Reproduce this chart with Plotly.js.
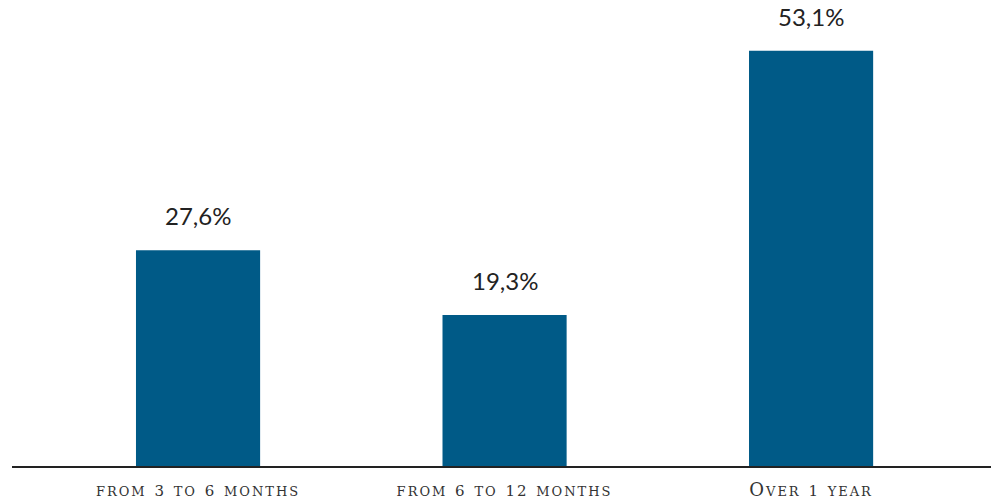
<!DOCTYPE html>
<html>
<head>
<meta charset="utf-8">
<script src="https://cdn.plot.ly/plotly-3.0.1.min.js"></script>
<style>
  html, body { margin: 0; padding: 0; background: #fff; }
  #chart { width: 991px; height: 502px; }
  .xtick text { letter-spacing: 2px; }
</style>
</head>
<body>
<div id="chart"></div>
<script>
// Share of cases by duration
const categories = ['from 3 to 6 months', 'from 6 to 12 months', 'Over 1 year'];
const shares = [27.6, 19.3, 53.1];
const shareLabels = ['27,6%', '19,3%', '53,1%'];

const barColor = '#005a87';

// Digits set a little smaller so they sit with the small capitals
const tickText = categories.map(c => c.replace(/(\d+)/g, '<span style="font-size:15px">$1</span>'));

const trace = {
  type: 'bar',
  x: categories,
  y: shares,
  width: 0.405,
  marker: { color: barColor },
  hoverinfo: 'skip'
};

const annotations = categories.map((c, i) => ({
  x: c,
  y: shares[i],
  xref: 'x',
  yref: 'y',
  text: shareLabels[i],
  showarrow: false,
  yanchor: 'bottom',
  yshift: 18,
  font: { family: 'Lato, "Noto Sans", sans-serif', size: 24, color: '#222' }
}));

const layout = {
  width: 991,
  height: 502,
  margin: { l: 12, r: 0, t: 0, b: 36 },
  paper_bgcolor: '#fff',
  plot_bgcolor: '#fff',
  showlegend: false,
  xaxis: {
    type: 'category',
    range: [-0.607, 2.587],
    tickvals: categories,
    ticktext: tickText,
    showline: true,
    linecolor: '#222',
    linewidth: 2,
    ticks: '',
    ticklabelstandoff: 6,
    showgrid: false,
    zeroline: false,
    fixedrange: true,
    tickfont: { family: '"DejaVu Serif", serif', size: 18, color: '#333', variant: 'small-caps' }
  },
  yaxis: {
    range: [0, 59.6],
    visible: false,
    showgrid: false,
    zeroline: false,
    fixedrange: true
  },
  annotations: annotations
};

Plotly.newPlot('chart', [trace], layout, { displayModeBar: false, staticPlot: true });
</script>
</body>
</html>
